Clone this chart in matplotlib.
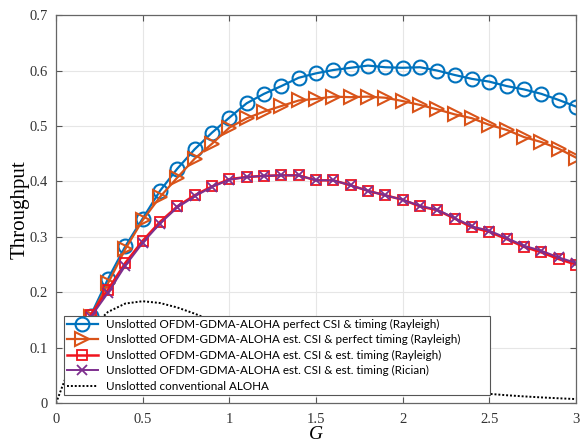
import numpy as np
import matplotlib.pyplot as plt

# Offered load G
G = [0.2, 0.3, 0.4, 0.5, 0.6, 0.7, 0.8, 0.9, 1.0, 1.1, 1.2, 1.3, 1.4, 1.5,
     1.6, 1.7, 1.8, 1.9, 2.0, 2.1, 2.2, 2.3, 2.4, 2.5, 2.6, 2.7, 2.8, 2.9, 3.0]

# OFDM-GDMA-ALOHA throughput curves
perfect_csi = [0.158, 0.224, 0.283, 0.333, 0.383, 0.423, 0.458, 0.488, 0.515,
               0.541, 0.558, 0.572, 0.587, 0.595, 0.601, 0.605, 0.609, 0.606,
               0.605, 0.606, 0.600, 0.592, 0.585, 0.580, 0.572, 0.566, 0.558,
               0.547, 0.535]
est_csi_perfect_timing = [0.155, 0.216, 0.278, 0.330, 0.372, 0.407, 0.441, 0.468,
                          0.497, 0.514, 0.526, 0.536, 0.546, 0.549, 0.553, 0.552,
                          0.553, 0.551, 0.545, 0.538, 0.530, 0.521, 0.514, 0.502,
                          0.493, 0.480, 0.471, 0.459, 0.443]
est_rayleigh = [0.159, 0.205, 0.253, 0.293, 0.327, 0.355, 0.375, 0.391, 0.404,
                0.408, 0.410, 0.411, 0.411, 0.402, 0.402, 0.393, 0.383, 0.375,
                0.367, 0.355, 0.348, 0.333, 0.317, 0.309, 0.296, 0.282, 0.272,
                0.260, 0.250]
est_rician = [0.155, 0.199, 0.248, 0.289, 0.324, 0.353, 0.373, 0.390, 0.403,
              0.408, 0.410, 0.411, 0.411, 0.402, 0.402, 0.393, 0.383, 0.375,
              0.367, 0.356, 0.349, 0.334, 0.319, 0.311, 0.298, 0.284, 0.275,
              0.263, 0.253]

# Conventional unslotted ALOHA
G_aloha = [0.0, 0.1, 0.2, 0.3, 0.4, 0.5, 0.6, 0.7, 0.8, 0.9, 1.0, 1.1, 1.2, 1.3,
           1.4, 1.5, 1.6, 1.7, 1.8, 1.9, 2.0, 2.1, 2.2, 2.3, 2.4, 2.5, 2.6, 2.7,
           2.8, 2.9, 3.0]
aloha = [0.0, 0.0819, 0.1341, 0.1646, 0.1797, 0.1839, 0.1807, 0.1726, 0.1615,
         0.1488, 0.1353, 0.1219, 0.1089, 0.0966, 0.0851, 0.0747, 0.0652, 0.0567,
         0.0492, 0.0425, 0.0366, 0.0315, 0.0271, 0.0231, 0.0198, 0.0168, 0.0143,
         0.0122, 0.0104, 0.0088, 0.0074]

labels = [
    "Unslotted OFDM-GDMA-ALOHA perfect CSI & timing (Rayleigh)",
    "Unslotted OFDM-GDMA-ALOHA est. CSI & perfect timing (Rayleigh)",
    "Unslotted OFDM-GDMA-ALOHA est. CSI & est. timing (Rayleigh)",
    "Unslotted OFDM-GDMA-ALOHA est. CSI & est. timing (Rician)",
    "Unslotted conventional ALOHA",
]

fig = plt.figure(figsize=(5.83, 4.45), dpi=100)
ax = fig.add_axes([0.096, 0.094, 0.892, 0.872])

ax.plot(G, perfect_csi, color='#0072BD', lw=1.6, marker='o', ms=10,
        mfc='none', mew=1.5, label=labels[0])
ax.plot(G, est_csi_perfect_timing, color='#D95319', lw=1.6, marker='>', ms=10,
        mfc='none', mew=1.5, label=labels[1])
ax.plot(G, est_rayleigh, color='#F0141E', lw=1.8, marker='s', ms=7,
        mfc='none', mew=1.3, label=labels[2])
ax.plot(G, est_rician, color='#7E2F8E', lw=1.4, marker='x', ms=7,
        mew=1.3, label=labels[3])
ax.plot(G_aloha, aloha, color='black', lw=1.4, ls=(0, (1, 1)), label=labels[4])

ax.set_xlim(0, 3)
ax.set_ylim(0, 0.7)
ax.set_xticks([0, 0.5, 1, 1.5, 2, 2.5, 3])
ax.set_xticklabels(['0', '0.5', '1', '1.5', '2', '2.5', '3'])
ax.set_yticks([0, 0.1, 0.2, 0.3, 0.4, 0.5, 0.6, 0.7])
ax.set_yticklabels(['0', '0.1', '0.2', '0.3', '0.4', '0.5', '0.6', '0.7'])

ax.grid(True, color='#e6e6e6', lw=0.8)
ax.set_axisbelow(True)
ax.tick_params(direction='in', top=True, right=True, length=4, width=0.8,
               color='#555555', labelsize=10.5, labelcolor='#333333')
ax.tick_params(axis='x', pad=7)
ax.tick_params(axis='y', pad=6)
for lab in ax.get_xticklabels() + ax.get_yticklabels():
    lab.set_family('Liberation Serif')
for s in ax.spines.values():
    s.set_color('#666666')
    s.set_linewidth(0.9)

ax.set_xlabel('G', family='Liberation Serif', style='italic', fontsize=14,
              labelpad=0)
ax.set_ylabel('Throughput', family='Liberation Serif', fontsize=15, labelpad=0)

# legend box stretched to the right like the MATLAB one
leg = ax.legend(loc='lower left', bbox_to_anchor=(0.016, 0.022, 0.819, 0.2),
                mode='expand', prop={'family': 'Lato', 'size': 8.4},
                fancybox=False, framealpha=1, edgecolor='#555555',
                borderpad=0.25, labelspacing=0.38, handlelength=2.6,
                handletextpad=0.7, borderaxespad=0)
leg.get_frame().set_linewidth(0.8)

fig.savefig('out.png', dpi=100)
